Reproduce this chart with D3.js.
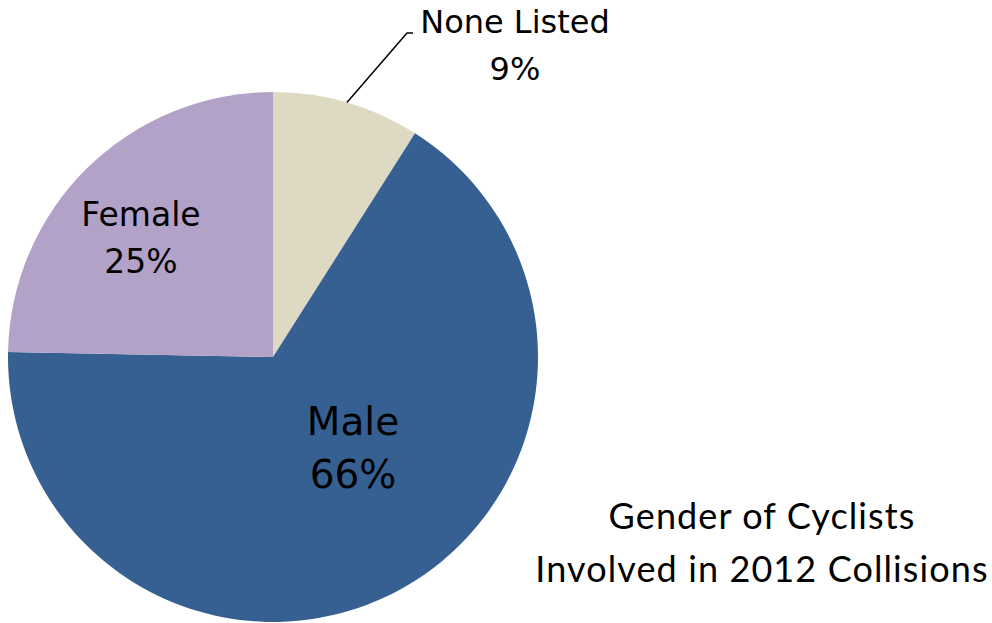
<!DOCTYPE html>
<meta charset="utf-8">
<style>
  body { margin: 0; background: #fff; }
  .slice-label { font-family: "DejaVu Sans", sans-serif; fill: #000; }
  .title { font-family: "Lato", "Open Sans", sans-serif; font-size: 36px; letter-spacing: 1.1px; fill: #000; }
</style>
<body>
<div id="chart"></div>
<script src="https://d3js.org/d3.v7.min.js"></script>
<script>

// values (percent of cyclists)
var categories = ["None Listed", "Male", "Female"];
var values = [9.0, 66.3, 24.7];
var labels = ["9%", "66%", "25%"];
var colors = ["#ddd9c3", "#376092", "#b3a2c7"];
var titleLines = ["Gender of Cyclists", "Involved in 2012 Collisions"];

var width = 992,
    height = 623;

var cx = 273, cy = 357, radius = 265;

var svg = d3.select("#chart").append("svg")
    .attr("width", width)
    .attr("height", height);

var pie = d3.pie()
    .sort(null)
    .value(function(d) { return d; });

var arc = d3.arc()
    .innerRadius(0)
    .outerRadius(radius);

var arcs = pie(values);

var g = svg.append("g")
    .attr("transform", "translate(" + cx + "," + cy + ")");

g.selectAll("path")
    .data(arcs)
  .enter().append("path")
    .attr("d", arc)
    .attr("fill", function(d, i) { return colors[i]; });

// where each label sits (center x, first baseline, font size, line gap)
var labelPos = [
  { x: 515, y: 33, size: 32, gap: 47 },
  { x: 353, y: 435, size: 39, gap: 53 },
  { x: 141, y: 226, size: 33, gap: 47 }
];

arcs.forEach(function(d, i) {
  var p = labelPos[i];
  var t = svg.append("text")
      .attr("class", "slice-label")
      .attr("text-anchor", "middle")
      .style("font-size", p.size + "px");
  t.append("tspan").attr("x", p.x).attr("y", p.y).text(categories[i]);
  t.append("tspan").attr("x", p.x).attr("y", p.y + p.gap).text(labels[i]);
});

// leader line for the small slice
var mid = (arcs[0].startAngle + arcs[0].endAngle) / 2;
var edge = [cx + Math.sin(mid) * radius, cy - Math.cos(mid) * radius];
svg.append("path")
    .attr("d", d3.line()([edge, [407, 33], [413, 33]]))
    .attr("fill", "none")
    .attr("stroke", "#000")
    .attr("stroke-width", 1.5);

svg.append("text")
    .attr("class", "title")
    .attr("text-anchor", "middle")
  .selectAll("tspan")
    .data(titleLines)
  .enter().append("tspan")
    .attr("x", 762)
    .attr("y", function(d, i) { return 529 + i * 53; })
    .text(function(d) { return d; });

</script>
</body>
